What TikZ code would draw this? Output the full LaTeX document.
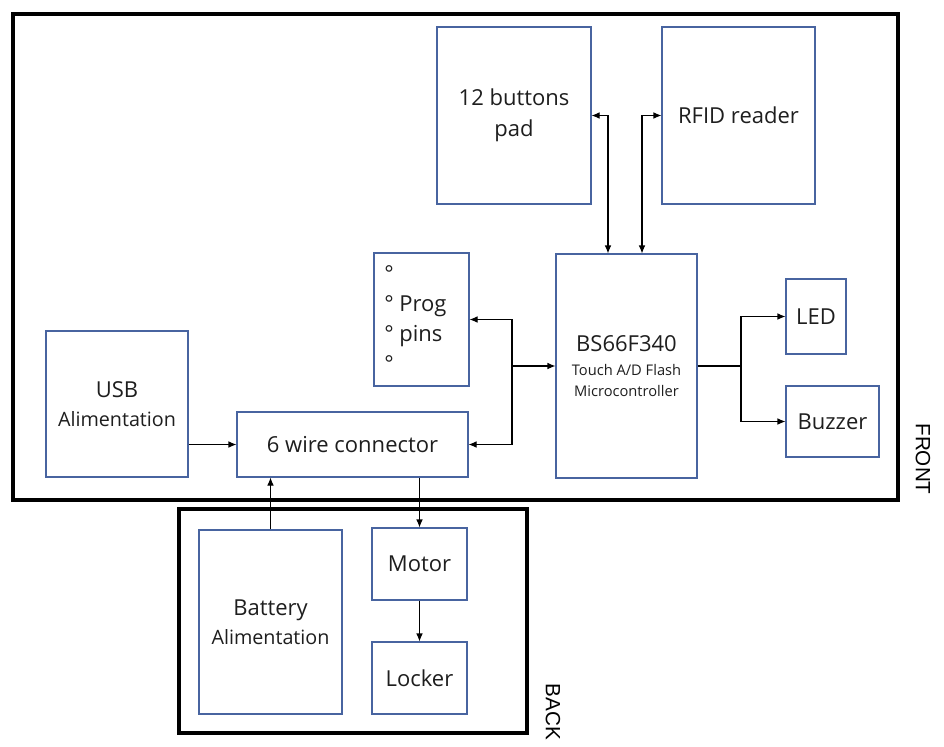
\documentclass[tikz,border=0pt]{standalone}
\usepackage{fontspec}
\setmainfont{Open Sans}
\newfontfamily\sidefont{Liberation Sans}
\usetikzlibrary{arrows.meta}

\definecolor{boxblue}{RGB}{72,100,160}
\definecolor{inktext}{RGB}{30,30,30}

\begin{document}
\begin{tikzpicture}[x=0.75pt, y=-0.75pt,
		box/.style 2 args={draw=boxblue, line width=0.8pt, text=inktext,
			minimum width=#1*0.75pt, minimum height=#2*0.75pt, inner sep=0pt,
			align=center, font=\fontsize{16.5}{23}\selectfont},
		frame/.style 2 args={draw=black, line width=2.3pt,
			minimum width=#1*0.75pt, minimum height=#2*0.75pt, inner sep=0pt},
		link/.style={draw=black, line width=0.8pt},
		tip/.style={-{Latex[length=6pt,width=5pt]}},
		tips/.style={{Latex[length=6pt,width=5pt]}-{Latex[length=6pt,width=5pt]}},
		side/.style={rotate=-90, font=\sidefont\fontsize{15.5}{18}\selectfont}
	]
					\useasboundingbox[fill=white] (0,0) rectangle (944,746);

					%% front and back casing
					\node[frame={885}{486}] (front) at (455.5,257) {};
					\node[frame={348}{224}] (back) at (353,621) {};
					\node[side] (fronttxt) at (923,459) {FRONT};
					\node[side] (backtxt) at (553,712) {BACK};

					%% front blocks
					\node[box={154}{177}] (buttons) at (514,115.5) {12 buttons\\pad};
					\node[box={153}{177}] (rfid) at (738.5,115.5) {RFID reader};
					\node[box={95}{133}] (prog) at (421.5,319.5) {};
					\node[anchor=west, inner sep=0pt, align=left, text=inktext,
						font=\fontsize{16.5}{22.5}\selectfont] (progtxt) at (384,319)
						{°\\° Prog\\° pins\\°};
					\node[box={141}{224}] (mcu) at (626.5,366)
						{BS66F340\\[-5pt]{\fontsize{11}{15.5}\selectfont Touch A/D Flash}\\[-7pt]{\fontsize{11}{15.5}\selectfont Microcontroller}};
					\node[box={60}{75}] (led) at (816,316.5) {LED};
					\node[box={93}{71}] (buzzer) at (832.5,421.5) {Buzzer};
					\node[box={142}{146}] (usb) at (117,404)
						{USB\\[-1pt]{\fontsize{14.8}{20}\selectfont Alimentation}};
					\node[box={231}{65}] (conn) at (352.5,444.5) {6 wire connector};

					%% back blocks
					\node[box={143}{184}] (battery) at (270.5,622)
						{Battery\\[-1pt]{\fontsize{14.8}{20}\selectfont Alimentation}};
					\node[box={95}{72}] (motor) at (419.5,564) {Motor};
					\node[box={95}{72}] (locker) at (419.5,678) {Locker};

					%% junctions
					\coordinate (jl) at (512,366);
					\coordinate (jr) at (741,366);

					%% connections
					\draw[link, tips] (buttons.east) -| (608,0 |- mcu.north);
					\draw[link, tips] (rfid.west) -| (642,0 |- mcu.north);
					\draw[link, tip] (jl) -- (mcu.west);
					\draw[link, tip] (jl) |- (prog.east);
					\draw[link, tip] (jl) |- (conn.east);
					\draw[link] (mcu.east) -- (jr);
					\draw[link, tip] (jr) |- (led.west);
					\draw[link, tip] (jr) |- (buzzer.west);
					\draw[link, tip] (usb.east |- conn.west) -- (conn.west);
					\draw[link, tip] (battery.north) -- (battery.north |- conn.south);
					\draw[link, tip] (motor.north |- conn.south) -- (motor.north);
					\draw[link, tip] (motor.south) -- (locker.north);
\end{tikzpicture}
\end{document}
